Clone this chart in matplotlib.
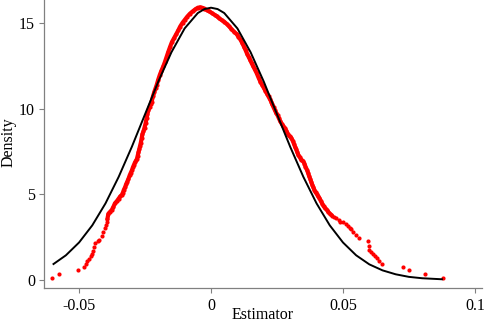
import matplotlib.pyplot as plt

plt.rcParams['font.family'] = ['Liberation Serif', 'DejaVu Serif']

# normal density (black line)
norm_x = [-0.0597, -0.055, -0.05, -0.045, -0.04, -0.035, -0.03, -0.025, -0.02,
          -0.015, -0.01, -0.005, -0.0025, 0.0, 0.0025, 0.005, 0.01, 0.015, 0.02,
          0.025, 0.03, 0.035, 0.04, 0.045, 0.05, 0.055, 0.06, 0.065, 0.07,
          0.075, 0.08, 0.0875]
norm_y = [0.93, 1.44, 2.19, 3.19, 4.47, 6.02, 7.78, 9.68, 11.58,
          13.30, 14.69, 15.59, 15.82, 15.90, 15.82, 15.59, 14.69, 13.30, 11.58,
          9.68, 7.78, 6.02, 4.47, 3.19, 2.19, 1.44, 0.91, 0.56, 0.33,
          0.18, 0.10, 0.04]

# kernel density at each estimate (red dots)
kde_x = [-0.0601, -0.0577, -0.0504, -0.0481, -0.0475, -0.0469, -0.0462, -0.0456,
         -0.0452, -0.0446, -0.0443, -0.0438, -0.0430, -0.0423, -0.0414, -0.0408,
         -0.0402, -0.0398, -0.0395, -0.0393, -0.0389, -0.0383, -0.0376, -0.0370,
         -0.0364, -0.0357, -0.0350, -0.0344, -0.0338, -0.0334, -0.0330, -0.0326,
         -0.0322, -0.0318, -0.0313, -0.0308, -0.0304, -0.0300, -0.0296, -0.0292,
         -0.0288, -0.0284, -0.0281, -0.0278, -0.0275, -0.0272, -0.0269, -0.0266,
         -0.0263, -0.0260, -0.0256, -0.0252, -0.0248, -0.0244, -0.0241, -0.0237,
         -0.0233, -0.0229, -0.0225, -0.0220, -0.0215, -0.0210, -0.0206, -0.0200,
         -0.0194, -0.0188, -0.0181, -0.0175, -0.0168, -0.0162, -0.0155, -0.0148,
         -0.0140, -0.0132, -0.0124, -0.0117, -0.0108, -0.0099, -0.0090, -0.0080,
         -0.0070, -0.0060, -0.0050, -0.0042, -0.0034, -0.0025, -0.0016, -0.0006,
         0.0004, 0.0014, 0.0022, 0.0031, 0.0040, 0.0050, 0.0059, 0.0068,
         0.0077, 0.0087, 0.0097, 0.0104, 0.0112, 0.0118, 0.0125, 0.0131,
         0.0137, 0.0143, 0.0148, 0.0154, 0.0160, 0.0166, 0.0173, 0.0180,
         0.0187, 0.0194, 0.0200, 0.0206, 0.0212, 0.0218, 0.0223, 0.0228,
         0.0232, 0.0237, 0.0242, 0.0247, 0.0252, 0.0257, 0.0262, 0.0268,
         0.0274, 0.0280, 0.0286, 0.0292, 0.0298, 0.0304, 0.0310, 0.0315,
         0.0319, 0.0323, 0.0327, 0.0331, 0.0336, 0.0342, 0.0348, 0.0354,
         0.0358, 0.0363, 0.0368, 0.0372, 0.0376, 0.0380, 0.0384, 0.0388,
         0.0392, 0.0396, 0.0401, 0.0406, 0.0411, 0.0416, 0.0422, 0.0427,
         0.0433, 0.0439, 0.0445, 0.0452, 0.0459, 0.0465, 0.0475, 0.0484,
         0.0490, 0.0500, 0.0511, 0.0519, 0.0525, 0.0530, 0.0538, 0.0548,
         0.0559, 0.0595, 0.0597, 0.0600, 0.0607, 0.0614, 0.0622, 0.0629,
         0.0638, 0.0648, 0.0726, 0.0751, 0.0812, 0.0879]
kde_y = [0.12, 0.33, 0.57, 0.76, 0.92, 1.08, 1.25, 1.40,
         1.50, 1.69, 1.93, 2.18, 2.28, 2.33, 2.57, 2.82,
         3.05, 3.20, 3.38, 3.54, 3.87, 3.97, 4.09, 4.27,
         4.48, 4.60, 4.75, 4.88, 4.97, 5.10, 5.28, 5.40,
         5.58, 5.72, 5.90, 6.12, 6.26, 6.40, 6.58, 6.72,
         6.87, 6.98, 7.06, 7.25, 7.45, 7.62, 7.80, 8.02,
         8.28, 8.52, 8.68, 8.90, 9.15, 9.45, 9.70, 9.92,
         10.08, 10.25, 10.42, 10.72, 10.98, 11.20, 11.38, 11.70,
         11.98, 12.22, 12.47, 12.72, 13.05, 13.32, 13.62, 13.90,
         14.12, 14.35, 14.58, 14.80, 15.02, 15.20, 15.38, 15.55,
         15.68, 15.80, 15.90, 15.92, 15.90, 15.85, 15.76, 15.68,
         15.58, 15.48, 15.40, 15.28, 15.18, 15.08, 14.96, 14.82,
         14.66, 14.50, 14.36, 14.20, 14.02, 13.85, 13.62, 13.42,
         13.20, 13.02, 12.86, 12.66, 12.48, 12.30, 12.08, 11.82,
         11.58, 11.38, 11.22, 11.05, 10.88, 10.72, 10.58, 10.42,
         10.25, 10.08, 9.90, 9.75, 9.62, 9.45, 9.28, 9.12,
         8.98, 8.86, 8.70, 8.50, 8.38, 8.30, 8.12, 7.92,
         7.76, 7.62, 7.46, 7.30, 7.18, 7.02, 6.96, 6.80,
         6.62, 6.45, 6.25, 6.05, 5.90, 5.72, 5.55, 5.40,
         5.25, 5.12, 5.02, 4.88, 4.78, 4.62, 4.45, 4.30,
         4.18, 4.10, 3.96, 3.85, 3.76, 3.70, 3.60, 3.48,
         3.40, 3.36, 3.25, 3.15, 3.05, 2.96, 2.80, 2.62,
         2.43, 2.28, 1.98, 1.73, 1.62, 1.54, 1.42, 1.30,
         1.11, 0.95, 0.76, 0.57, 0.33, 0.10]

x_ticks = [-0.05, 0, 0.05, 0.1]
x_labels = ['-0.05', '0', '0.05', '0.1']
y_ticks = [0, 5, 10, 15]

fig = plt.figure(figsize=(4.84, 3.22), dpi=100)
ax = fig.add_axes([44 / 484, 34 / 322, 438 / 484, 288 / 322])

# dense middle part reads as a thick band
core = [i for i, v in enumerate(kde_x) if -0.0395 < v < 0.0465]
ax.plot([kde_x[i] for i in core], [kde_y[i] for i in core], color='#ff0000',
        lw=3.0, solid_capstyle='round', zorder=2)
ax.plot(kde_x, kde_y, 'o', color='#ff0000', ms=3.0, mew=0, zorder=2)
ax.plot(norm_x, norm_y, color='black', lw=1.4, zorder=3)

ax.set_xlim(-0.0633, 0.1027)
ax.set_ylim(-0.47, 16.35)
ax.set_xticks(x_ticks)
ax.set_xticklabels(x_labels)
ax.set_yticks(y_ticks)

for s in ['top', 'right']:
    ax.spines[s].set_visible(False)
for s in ['left', 'bottom']:
    ax.spines[s].set_color('#808080')
    ax.spines[s].set_linewidth(0.9)
ax.tick_params(direction='out', length=3.5, width=0.8, color='#808080',
               labelsize=11.5, pad=3)
ax.tick_params(axis='x', pad=4)

fig.text(263 / 484, 1 - 315 / 322, 'Estimator', fontsize=11.5,
         ha='center', va='center')
fig.text(9 / 484, 1 - 142 / 322, 'Density', fontsize=11.5,
         ha='center', va='center', rotation=90)

fig.savefig('out.png', dpi=100)
